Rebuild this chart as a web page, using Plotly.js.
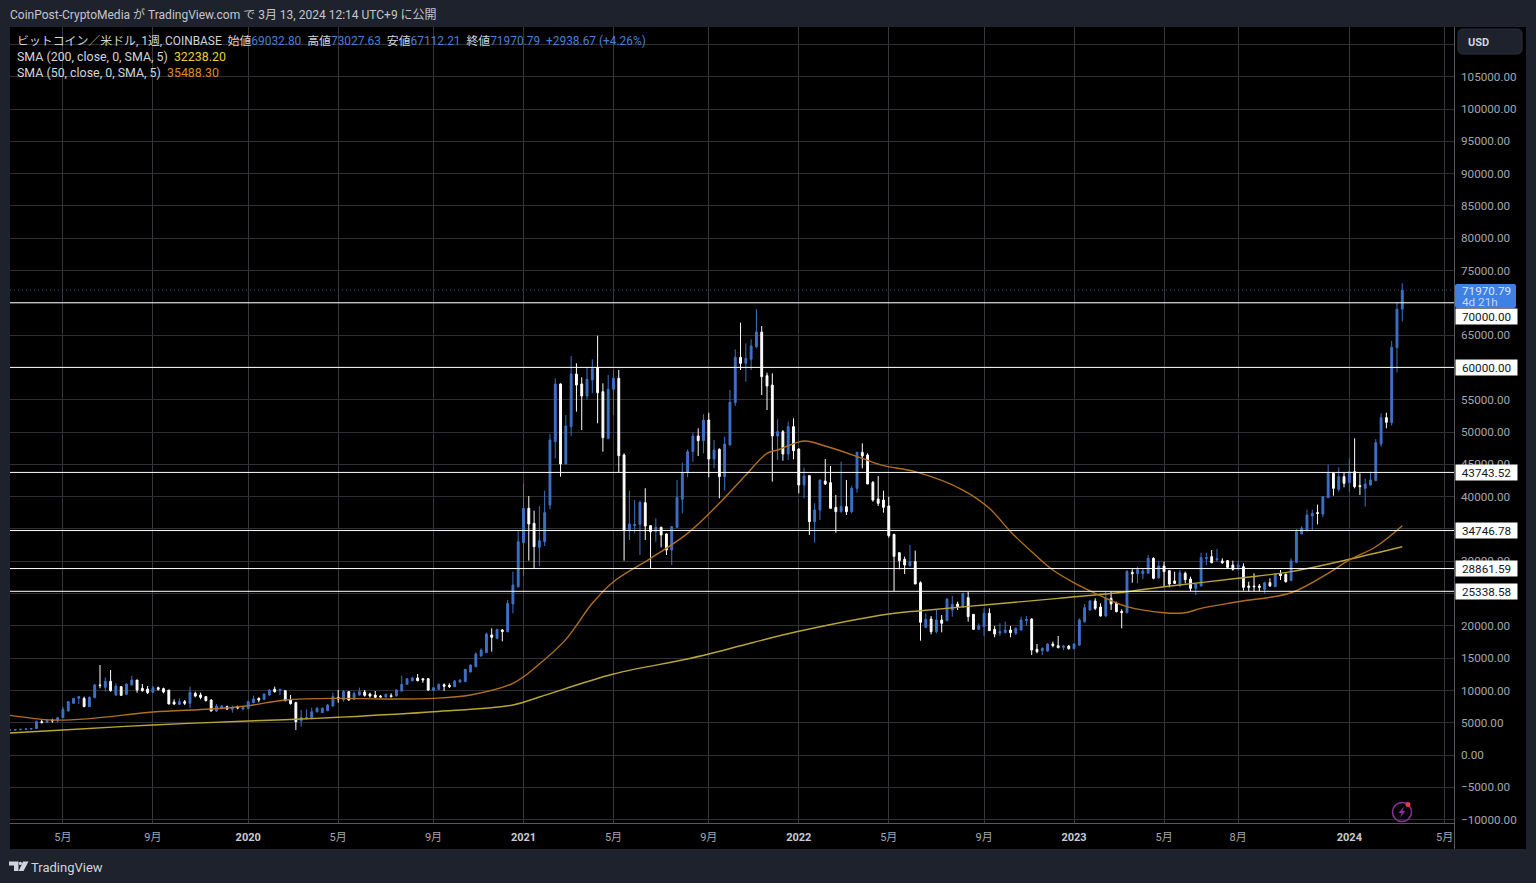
<!DOCTYPE html>
<html>
<head>
<meta charset="utf-8">
<script src="https://cdn.plot.ly/plotly-3.0.1.min.js"></script>
<style>
html, body { margin: 0; padding: 0; background: #1e222d; }
</style>
</head>
<body>
<div id="chart" style="width:1536px;height:883px"></div>
<script>
// weekly BTC/USD candles
var firstWeek = '2019-02-25';
var opens = [3820,3870,3920,3990,4010,4100,5160,5020,5400,5300,
5780,6811,8000,8772,8772,7482,8875,10840,10475,11404,
9288,10578,9391,10836,11610,10320,10217,9701,10423,10268,
10062,8204,7843,8256,7998,9546,9288,9030,8514,6811,
7224,7482,7069,7482,7121,7224,8101,8772,8617,9288,
10165,9959,9959,8514,8101,5315,5624,5624,6708,6553,
6863,7585,8890,8514,9804,8617,9288,9752,9443,9288,
9133,8978,9185,9133,9907,10939,11507,11920,11816,11816,
10010,10165,10888,10784,10578,11300,11352,12848,13674,15325,
15841,18580,18060,19350,19092,23375,26058,32870,38184,35860,
32146,33024,38700,48504,57431,45047,50826,58979,57431,55573,
58050,59964,56244,49020,56605,58308,46440,34727,35500,35708,
39062,35502,34572,35243,34210,31734,35243,39577,43705,46956,
49381,48659,51858,45821,47317,43086,47988,54541,61559,60630,
61249,63210,65480,58721,57276,49381,50053,46595,50826,47369,
41796,43241,36120,37925,42415,42157,38339,37667,38442,37667,
41280,46853,46440,42209,39629,39474,38545,34159,31322,30289,
29309,29928,26677,19762,21052,19092,20898,20795,22446,23375,
22858,24355,21775,19453,19866,21930,19453,18880,18931,19350,
18834,19350,20795,21052,16357,16151,16099,17183,16925,16667,
16873,16460,17028,20640,22446,23839,22910,21517,24252,23478,
22240,22033,28276,28070,28070,28122,30444,27451,29257,28535,
26935,26252,28122,27245,25800,26161,30444,30702,30208,30031,
30083,29412,29051,29154,26161,26161,26161,25645,26677,26058,
28018,27967,27000,29825,34211,34830,37000,37513,37307,39836,
43602,41125,43086,42157,43860,41700,41280,41796,42466,48143,
52219,51445,63055,69032.80];
var highs = [3950,3930,4000,4100,4200,5340,5470,5450,5620,5850,
7450,8350,8800,9090,9030,9080,10990,13932,12023,13158,
11094,10680,11100,12281,11610,10991,10681,10681,10578,10423,
10062,8617,8772,8514,10578,9804,9649,9133,8617,7895,
7740,7637,7637,7637,7585,8411,9185,8927,9500,10217,
10578,10268,10010,9288,8256,6966,7069,7327,7430,7400,
7900,9670,10062,10062,9880,9804,10423,10062,9649,9905,
9290,9500,9546,10200,12281,11900,12100,12539,11850,11900,
10500,11050,11094,11094,11600,11700,13300,14000,15900,16500,
18950,19600,19500,19500,24000,28380,34830,42054,40093,37823,
38545,40918,49691,58308,57534,52632,61765,60630,58463,60011,
61249,64913,57534,58824,59598,59598,46698,40918,39474,39371,
41280,35604,36636,35347,34300,35449,42570,45254,47318,49897,
50568,52735,52993,48762,47472,49278,56502,62797,66925,63726,
64345,69000,66409,59185,59082,51960,50310,51600,52116,47472,
44479,43344,38958,42673,45821,44737,40248,45408,42570,41665,
46950,48246,46698,42415,43189,40919,39990,34159,31322,30702,
32508,31631,26883,21930,21516,22446,21671,24250,24613,23736,
25025,25284,21825,20382,22703,22703,19969,20382,20640,19969,
19763,21414,21516,21155,17183,16667,17286,17544,18421,17028,
17028,17286,21156,23375,23994,24252,23478,25284,25284,23736,
22549,28638,28741,29154,28896,30960,30600,30031,29928,28638,
28380,28638,28380,27606,26471,31321,31321,31734,31889,30444,
30186,30083,30083,29670,26832,28122,26471,26832,27348,28122,
28638,28122,30444,34985,35398,37978,37978,38765,40000,44915,
43705,44531,43705,45924,49020,43602,42828,43860,48915,52890,
52993,64087,70073,73027.63];
var lows = [3720,3780,3850,3900,3950,4090,4900,4950,5000,5000,
5700,6760,7950,7895,7450,7450,8800,10320,9804,9804,
9133,9130,9300,10836,9649,9804,9443,9701,9959,9546,
7843,7740,7740,7740,7224,8927,8617,8308,6760,6656,
7069,6966,6553,7069,6863,7069,7998,8153,8500,9133,
9649,9288,8308,7800,3870,4386,5521,5624,6553,6500,
6760,7480,8101,8256,8400,8514,9185,9030,8875,8875,
8900,8900,8927,9100,9800,10900,11400,11400,11197,9900,
9950,10100,9907,10372,10500,11200,11300,12800,13600,15200,
15800,16000,17900,17600,19000,21930,25900,27709,30083,28896,
29257,32353,38029,45924,43086,45047,49381,53148,50310,55056,
56000,51342,46956,48865,52632,43705,30083,33282,34320,30960,
33282,28896,33024,32146,30960,29412,35243,37410,42983,45408,
46285,46698,42983,44376,39732,40918,47988,54025,59598,57792,
59598,62952,55728,53406,42312,45666,45563,45666,45769,40506,
39732,34056,32869,36378,41796,38184,34417,37513,37152,37410,
40609,44376,41950,39216,38545,37513,33660,25388,28741,28019,
29154,26471,17699,19608,18679,18834,18989,20700,21414,22446,
22800,20640,19350,19350,18421,19247,18215,18421,18834,18215,
18576,19247,20021,15480,15738,15480,15996,16667,16512,16254,
16300,16400,16900,20485,22342,22446,21414,21400,22446,22085,
19608,21930,26678,26574,27193,28100,27193,27245,26058,25955,
26471,25955,26574,25387,24768,26100,29412,29670,29928,29566,
28948,28535,28535,25439,25335,25335,25335,25026,26058,26058,
27090,26677,26900,29700,34211,34572,34830,35706,36790,39800,
40145,40764,41435,40764,41280,40248,38442,41700,42400,47730,
50568,50981,59237,67112.21];
var closes = [3870,3920,3990,4010,4100,5160,5020,5400,5300,5780,
7070,8260,8770,9030,7482,8930,10840,10760,11404,9959,
10681,9236,10991,11610,10062,9959,9649,10423,10165,9752,
7895,7895,8256,7998,9701,9133,8927,8411,6811,7585,
7585,7121,7327,7276,7379,8256,8669,8514,9443,10062,
9804,10165,8411,7946,5160,5831,5779,6708,7224,7224,
7740,9030,8670,9804,8514,9546,9804,9236,9133,8927,
8978,9391,9030,10062,10939,11816,11920,11507,11610,10062,
10423,10939,10630,10578,11455,11610,13261,13932,15635,16256,
18730,18215,19450,19100,23478,26316,33024,38184,35760,32250,
33179,37513,48762,57431,45047,50929,58979,57276,55573,58153,
59800,56089,49123,56605,58308,46337,34830,35759,35700,39113,
35450,34572,35243,34055,31734,35346,39836,43705,46956,49381,
48659,51858,45821,47214,43086,48143,54593,61559,60630,61404,
63313,65480,58566,57121,49381,50053,46595,50826,47111,41796,
43189,36120,37925,42570,41950,38184,37667,38442,37667,41280,
46853,46285,41950,39474,38958,38339,33953,30741,30082,29412,
29928,26471,20537,21006,19092,20898,20382,24149,23323,22962,
25025,21414,19453,19969,21930,19247,18725,19092,19350,18931,
19608,20898,21001,16254,15996,16512,17183,16925,16615,16873,
16460,17183,20898,22807,23839,22704,21517,24252,23375,22188,
22033,28380,28070,28690,28483,30444,27348,29257,28380,26471,
26574,28225,27142,25800,26471,30547,30547,29773,30400,29773,
29051,28741,29412,25955,25955,26058,25955,26677,26161,28018,
27761,26832,30031,34572,35140,37152,37410,37410,39991,43602,
41280,43086,42054,43860,41538,41538,41950,42570,48349,52219,
51497,63107,68989,71970.79];

// moving averages, sampled every so many weeks (index = week number from firstWeek)
var sma200Weeks = [0,10,27,45,54,62,80,95,100,114,127,132,140,149,166,172,184,198,211,218,232,242,253,263];
var sma200 = [3406,3870,4644,5263,5526,5836,6703,7740,8978,12540,14700,15630,17340,19150,21830,22340,23220,24250,25280,26050,27350,28380,30300,32238.20];
var sma50Weeks = [0,8,15,27,38,45,52,62,71,80,87,95,100,105,110,114,121,128,134,139,143,145,150,154,161,165,171,180,185,189,193,197,202,205,211,218,222,225,232,242,249,253,258,263];
var sma50 = [6140,5420,5625,6650,7120,7630,8510,8770,8670,8770,9290,11100,14090,17900,23480,26830,30440,34310,38960,43340,46700,47210,48600,47830,45930,44790,43860,41020,38190,34570,31470,28640,26210,25030,22960,22030,22030,22700,23730,25120,28130,30190,32240,35488.30];

// drawn horizontal levels
var levels = [70000, 60000, 43743.52, 34746.78, 28861.59, 25338.58];
var lastPrice = 71970.79;

var tickDates = ['2019-05-06','2019-09-02','2020-01-06','2020-05-04','2020-09-07','2021-01-04','2021-05-03','2021-09-06','2022-01-03','2022-05-02','2022-09-05','2023-01-02','2023-05-01','2023-08-07','2024-01-01','2024-05-06'];
var tickLabels = ['5月','9月','2020','5月','9月','2021','5月','9月','2022','5月','9月','2023','5月','8月','2024','5月'];

var W = 1536, H = 883, L = 10, R = 1454, T = 27, B = 823;
var FONT = 'Roboto, "Noto Sans CJK JP", sans-serif';
var BLUE = '#3f71c8';

function px(x) { return (x - L) / (R - L); }
function py(y) { return (B - y) / (B - T); }

var weeks = [];
for (var i = 0; i < closes.length; i++) {
    var d = new Date(firstWeek + 'T00:00:00Z');
    d.setUTCDate(d.getUTCDate() + i * 7);
    weeks.push(d.toISOString().slice(0, 10));
}

var candles = {
    type: 'candlestick',
    x: weeks,
    open: opens,
    high: highs,
    low: lows,
    close: closes,
    whiskerwidth: 0,
    increasing: { line: { color: BLUE, width: 1 }, fillcolor: BLUE },
    decreasing: { line: { color: '#ffffff', width: 1 }, fillcolor: '#ffffff' },
    hoverinfo: 'skip',
    showlegend: false
};

var line200 = {
    type: 'scatter',
    mode: 'lines',
    x: sma200Weeks.map(function (w) { return weeks[w]; }),
    y: sma200,
    line: { color: '#b8a535', width: 1.4, shape: 'spline' },
    hoverinfo: 'skip',
    showlegend: false
};

var line50 = {
    type: 'scatter',
    mode: 'lines',
    x: sma50Weeks.map(function (w) { return weeks[w]; }),
    y: sma50,
    line: { color: '#b06f1f', width: 1.4, shape: 'spline' },
    hoverinfo: 'skip',
    showlegend: false
};

function pathFrom(points) {
    return points.map(function (p, k) {
        return (k === 0 ? 'M' : 'L') + px(p[0]) + ',' + py(p[1]);
    }).join(' ') + ' Z';
}

// rounded rect for the currency button and the price tag
function roundedRect(x0, y0, x1, y1, r) {
    return 'M' + px(x0 + r) + ',' + py(y0) + ' L' + px(x1 - r) + ',' + py(y0) +
        ' Q' + px(x1) + ',' + py(y0) + ' ' + px(x1) + ',' + py(y0 + r) +
        ' L' + px(x1) + ',' + py(y1 - r) +
        ' Q' + px(x1) + ',' + py(y1) + ' ' + px(x1 - r) + ',' + py(y1) +
        ' L' + px(x0 + r) + ',' + py(y1) +
        ' Q' + px(x0) + ',' + py(y1) + ' ' + px(x0) + ',' + py(y1 - r) +
        ' L' + px(x0) + ',' + py(y0 + r) +
        ' Q' + px(x0) + ',' + py(y0) + ' ' + px(x0 + r) + ',' + py(y0) + ' Z';
}

var shapes = [
    // black panels behind plot, price scale and time scale
    { type: 'rect', layer: 'below', xref: 'paper', yref: 'paper', x0: px(10), x1: px(1526), y0: py(849), y1: py(27), fillcolor: '#000000', line: { width: 0 } },
    { type: 'line', xref: 'paper', yref: 'paper', x0: px(1454.5), x1: px(1454.5), y0: py(849), y1: py(27), line: { color: '#55585f', width: 1 } },
    { type: 'line', xref: 'paper', yref: 'y', x0: 0, x1: 1, y0: lastPrice, y1: lastPrice, line: { color: '#2f5596', width: 1, dash: '1px,3px' } },
    { type: 'path', xref: 'paper', yref: 'paper', path: roundedRect(1458, 29, 1522, 54, 5), fillcolor: '#1e222d', line: { color: '#2a2e39', width: 1 } },
    { type: 'path', xref: 'paper', yref: 'paper', path: roundedRect(1455, 284, 1516, 308, 2), fillcolor: '#3f80e4', line: { width: 0 } },
    // purple notice icon
    { type: 'circle', xref: 'paper', yref: 'paper', x0: px(1392.5), x1: px(1411.5), y0: py(821.5), y1: py(802.5), line: { color: '#8e2fa0', width: 1.5 } },
    { type: 'path', xref: 'paper', yref: 'paper', path: pathFrom([[1404, 806.5], [1398.5, 813], [1401.5, 813], [1400, 817.5], [1405.5, 811], [1402.5, 811]]), fillcolor: '#8e2fa0', line: { width: 0 } },
    { type: 'circle', xref: 'paper', yref: 'paper', x0: px(1405.5), x1: px(1410.5), y0: py(807), y1: py(802), fillcolor: '#f23645', line: { width: 0 } },
    // TradingView logo
    { type: 'path', xref: 'paper', yref: 'paper', path: pathFrom([[9, 861.5], [18.5, 861.5], [18.5, 871], [14, 871], [14, 865.5], [9, 865.5]]), fillcolor: '#d1d4dc', line: { width: 0 } },
    { type: 'circle', xref: 'paper', yref: 'paper', x0: px(18.8), x1: px(22), y0: py(865), y1: py(861.8), fillcolor: '#d1d4dc', line: { width: 0 } },
    { type: 'path', xref: 'paper', yref: 'paper', path: pathFrom([[23, 861.5], [28.5, 861.5], [23.5, 871], [18.7, 871]]), fillcolor: '#d1d4dc', line: { width: 0 } }
];

levels.forEach(function (level) {
    shapes.push({ type: 'line', xref: 'paper', yref: 'y', x0: 0, x1: 1, y0: level, y1: level, line: { color: '#ffffff', width: 1 } });
});

function textAt(x, y, text, size, color) {
    return {
        xref: 'paper', yref: 'paper', x: px(x), y: py(y),
        xanchor: 'left', yanchor: 'middle', align: 'left',
        showarrow: false, text: text,
        font: { family: FONT, size: size, color: color }
    };
}

function span(text, color) {
    return '<span style="color:' + color + '">' + text + '</span>';
}

var priceBlue = '#4a7fd6';
var annotations = [
    textAt(7.5, 14, 'CoinPost-CryptoMedia が TradingView.com で 3月 13, 2024 12:14 UTC+9 に公開', 12, '#c3c6ce'),
    textAt(14.5, 41, 'ビットコイン／米ドル, 1週, COINBASE&nbsp;&nbsp;始値' + span('69032.80', priceBlue) + '&nbsp;&nbsp;高値' + span('73027.63', priceBlue) + '&nbsp;&nbsp;安値' + span('67112.21', priceBlue) + '&nbsp;&nbsp;終値' + span('71970.79', priceBlue) + '&nbsp;&nbsp;' + span('+2938.67 (+4.26%)', priceBlue), 11.9, '#d1d4dc'),
    textAt(14.5, 56.5, 'SMA (200, close, 0, SMA, 5)&nbsp;&nbsp;' + span('32238.20', '#e6cd3f'), 12.4, '#d1d4dc'),
    textAt(14.5, 73, 'SMA (50, close, 0, SMA, 5)&nbsp;&nbsp;' + span('35488.30', '#d98a22'), 12.4, '#d1d4dc'),
    textAt(29, 867.5, 'TradingView', 13, '#d1d4dc'),
    textAt(1465.5, 42, '<b>USD</b>', 11, '#d1d4dc'),
    // last price tag
    textAt(1460, 290.5, '71970.79', 11.7, '#dbe7fa'),
    textAt(1460, 302.5, '4d 21h', 11.7, '#c3d8f7')
];

levels.forEach(function (level, k) {
    annotations.push({
        xref: 'paper', yref: 'y', x: px(1455), y: level, xanchor: 'left', yanchor: 'middle',
        yshift: k === 0 ? -14 : 0,
        showarrow: false, text: level.toFixed(2), width: 61, height: 15, borderpad: 0, align: 'center', bgcolor: '#ffffff',
        font: { family: FONT, size: 11.7, color: '#131722' }
    });
});

var layout = {
    width: W,
    height: H,
    margin: { l: L, r: W - R, t: T, b: H - B, pad: 0 },
    paper_bgcolor: '#1e222d',
    plot_bgcolor: '#000000',
    showlegend: false,
    dragmode: false,
    boxgap: 0.5,
    xaxis: {
        type: 'date',
        range: ['2019-02-25', '2024-05-18 10:00'],
        rangeslider: { visible: false },
        tickmode: 'array',
        tickvals: tickDates,
        ticktext: tickLabels.map(function (t) {
            return /^\d{4}$/.test(t) ? '<b>' + span(t, '#c9ccd4') + '</b>' : t;
        }),
        tickangle: 0,
        ticks: '',
        ticklabelstandoff: 4,
        gridcolor: '#35373d',
        gridwidth: 1,
        showline: true,
        linecolor: '#55585f',
        linewidth: 1,
        tickfont: { family: FONT, size: 11, color: '#a3a6af' },
        automargin: false
    },
    yaxis: {
        side: 'right',
        range: [-10526, 112693],
        tick0: 0,
        dtick: 5000,
        tickformat: '.2f',
        ticks: '',
        ticklabelstandoff: 6,
        gridcolor: '#2e3035',
        gridwidth: 1,
        zeroline: false,
        showline: false,
        tickfont: { family: FONT, size: 11.7, color: '#a3a6af' },
        automargin: false
    },
    shapes: shapes,
    annotations: annotations
};

Plotly.newPlot('chart', [candles, line200, line50], layout, { displayModeBar: false, responsive: false });
</script>
</body>
</html>
